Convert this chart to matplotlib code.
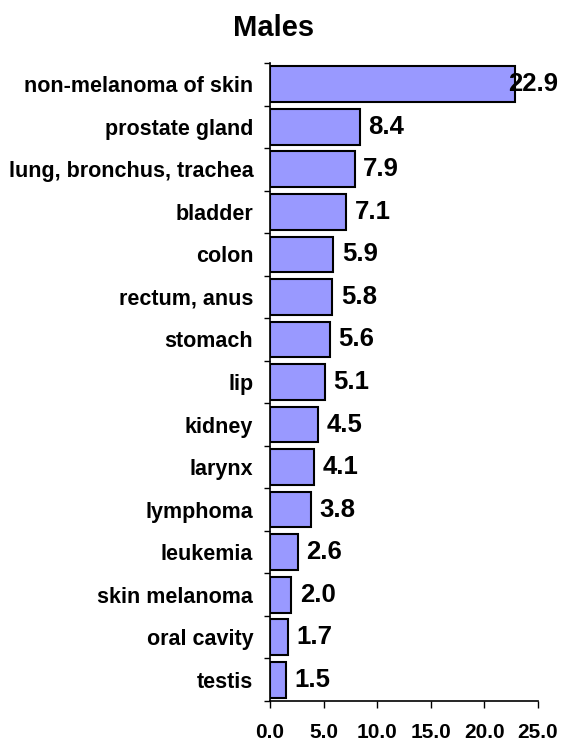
import matplotlib.pyplot as plt
import numpy as np
from matplotlib.ticker import FixedLocator

plt.rcParams.update({
    "font.family": ["Liberation Sans", "DejaVu Sans"],
    "font.weight": "bold",
})

sites = ["non-melanoma of skin", "prostate gland", "lung, bronchus, trachea",
         "bladder", "colon", "rectum, anus", "stomach", "lip", "kidney",
         "larynx", "lymphoma", "leukemia", "skin melanoma", "oral cavity",
         "testis"]
rates = [22.9, 8.4, 7.9, 7.1, 5.9, 5.8, 5.6, 5.1, 4.5, 4.1, 3.8, 2.6, 2.0,
         1.7, 1.5]
xticks = [0, 5, 10, 15, 20, 25]

fig = plt.figure(figsize=(5.62, 7.43), dpi=100)
ax = fig.add_axes([0.4804, 0.0565, 0.4769, 0.8587])

pos = np.arange(len(sites))
ax.barh(pos, rates, height=0.84, color="#9999FF", edgecolor="black",
        linewidth=1.5)
ax.set_ylim(len(sites) - 0.5, -0.5)
ax.set_xlim(0, 25)

for p, v in zip(pos, rates):
    ax.text(min(v + 0.8, 22.2), p, f"{v:.1f}", ha="left", va="center",
            fontsize=18.5, fontweight="bold")

ax.set_yticks(pos)
ax.set_yticklabels(sites, fontsize=15.5, fontweight="bold")
ax.yaxis.set_minor_locator(FixedLocator(np.arange(len(sites) + 1) - 0.5))
ax.tick_params(axis="y", which="major", length=0, pad=12)
ax.tick_params(axis="y", which="minor", length=4, width=1)

ax.set_xticks(xticks)
ax.set_xticklabels([f"{t:.1f}" for t in xticks], fontsize=15,
                   fontweight="bold")
ax.tick_params(axis="x", length=5, width=1, pad=11)

for s in ("top", "right"):
    ax.spines[s].set_visible(False)
for s in ("left", "bottom"):
    ax.spines[s].set_linewidth(1.2)

fig.text(0.486, 0.962, "Males", ha="center", va="center", fontsize=21,
         fontweight="bold")

fig.savefig("out.png", dpi=100)
